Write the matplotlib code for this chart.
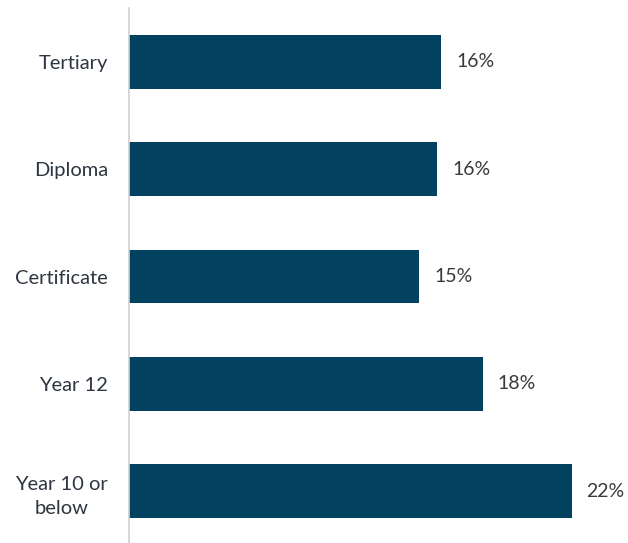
import matplotlib
matplotlib.use("Agg")
import matplotlib.pyplot as plt

# education level shares (labels rounded to whole percent)
categories = ["Tertiary", "Diploma", "Certificate", "Year 12", "Year 10 or\nbelow"]
values = [15.8, 15.6, 14.7, 17.9, 22.4]

bar_color = "#02415f"
text_color = "#3a3a3a"

plt.rcParams["font.family"] = ["Lato", "DejaVu Sans"]

fig = plt.figure(figsize=(6.28, 5.43), dpi=100)
ax = fig.add_axes([129 / 628, -2 / 543, 494 / 628, 537 / 543])

pos = list(range(len(categories)))
bars = ax.barh(pos, values, height=0.5, color=bar_color)
ax.set_ylim(len(categories) - 0.5, -0.5)
ax.set_xlim(0, 25)

for b, v in zip(bars, values):
    ax.text(b.get_width() + 0.75, b.get_y() + b.get_height() / 2, "%.0f%%" % v,
            va="center", ha="left", fontsize=14, color=text_color)

ax.set_yticks(pos)
ax.set_yticklabels(categories, fontsize=14.5, color="#2e3640",
                   multialignment="center", linespacing=1.55)
ax.tick_params(axis="y", length=0, pad=15)
ax.set_xticks([])
for s in ["top", "right", "bottom"]:
    ax.spines[s].set_visible(False)
ax.spines["left"].set_color("#d0d0d0")
ax.spines["left"].set_linewidth(1.2)

fig.savefig("out.png", dpi=100)
